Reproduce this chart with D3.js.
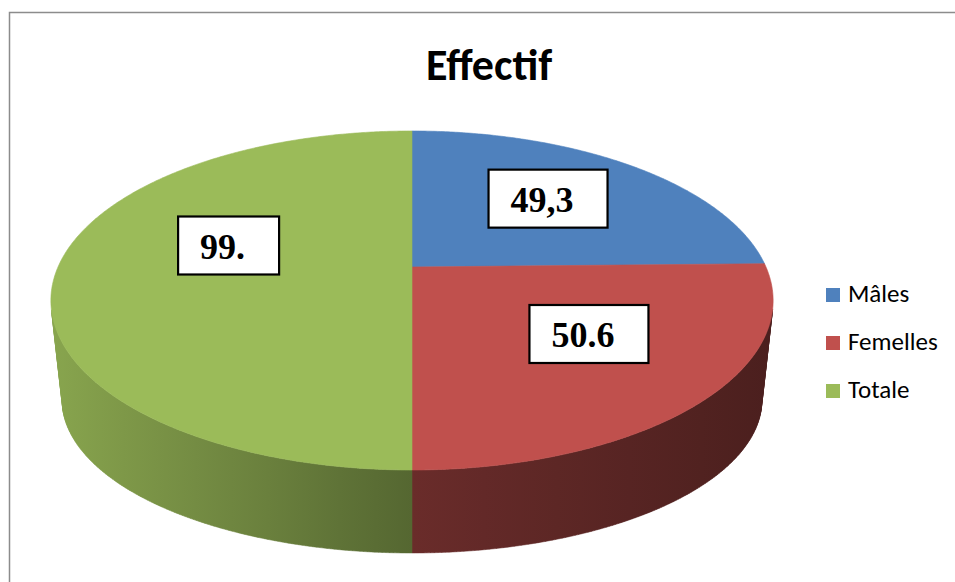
<!DOCTYPE html>
<html>
<head>
<meta charset="utf-8">
<script src="https://cdn.jsdelivr.net/npm/d3@7"></script>
<style>
  html, body { margin: 0; padding: 0; background: #fff; }
  svg { display: block; }
</style>
</head>
<body>
<svg id="chart" width="955" height="582"></svg>
<script>
// ---- data ----
const title = "Effectif";
const categories = ["Mâles", "Femelles", "Totale"];
const values = [49.3, 50.6, 99.9];
const valueLabels = ["49,3", "50.6", "99."];
const palette = ["#4F81BD", "#C0504D", "#9BBB59"];

// ---- layout ----
const W = 955, H = 582;
// perspective ellipses for the top face and the base of the cylinder
const topFace  = { cx: 412, cy: 267,   a: 354, b: 162.9, k: 0.1976 };
const baseFace = { cx: 412, cy: 369.8, a: 343, b: 147,   k: 0.1976 };
// label box placement relative to the slice anchor point
const labelRadius = 0.6;
const labelShift = [[-1, -4], [11.5, -7.6], [29, -21.5]];
const boxPadLeft = 22, boxPadRight = 34, boxHeight = 58;

const svg = d3.select("#chart");
svg.append("rect").attr("width", W).attr("height", H).attr("fill", "#fff");

// chart frame (only top and left edges fall inside the view)
svg.append("path")
  .attr("d", `M9.5,${H} V12.5 H${W}`)
  .attr("fill", "none")
  .attr("stroke", "#8c8c8c")
  .attr("stroke-width", 1.5);

// title
svg.append("text")
  .attr("x", 489).attr("y", 80)
  .attr("text-anchor", "middle")
  .attr("font-family", "Carlito, Calibri, Lato, sans-serif")
  .attr("font-weight", "bold")
  .attr("font-size", 44)
  .attr("fill", "#000")
  .text(title);

// project a point of the unit disc (pie angle, radius) onto the screen
function project(face, angle, r = 1) {
  const u = r * Math.sin(angle), v = -r * Math.cos(angle);
  const s = 1 / (1 - face.k * v);
  return [face.cx + face.a * u * s, face.cy + face.b * v * s];
}
function angles(a0, a1) {
  const n = Math.max(2, Math.ceil((a1 - a0) / (Math.PI / 360)));
  return d3.range(n + 1).map(i => a0 + (a1 - a0) * i / n);
}
function rim(face, a0, a1) {
  return angles(a0, a1).map(a => project(face, a));
}

const arcs = d3.pie().sort(null).value(d => d)(values);
const line = d3.line();

// orientation of a wall strip: the camera-facing side has the same sign as the front
function signedArea(pts) {
  let s = 0;
  for (let i = 0; i < pts.length; i++) {
    const [x0, y0] = pts[i], [x1, y1] = pts[(i + 1) % pts.length];
    s += x0 * y1 - x1 * y0;
  }
  return s / 2;
}
function strip(a0, a1) {
  return [project(topFace, a0), project(topFace, a1), project(baseFace, a1), project(baseFace, a0)];
}
const frontSign = Math.sign(signedArea(strip(Math.PI - 0.01, Math.PI + 0.01)));

// wall outline made of the camera-facing strips of a slice
function wallPath(d) {
  const as = angles(d.startAngle, d.endAngle);
  let p = "";
  for (let i = 0; i < as.length - 1; i++) {
    const q = strip(as[i], as[i + 1]);
    if (Math.sign(signedArea(q)) === frontSign) p += line(q) + "Z";
  }
  return p;
}

// side-wall shading: light from the left, darker towards the right
const xMin = topFace.cx - topFace.a * 1.02, xMax = topFace.cx + topFace.a * 1.02;
const shade = d3.scaleLinear().domain([xMin, topFace.cx, xMax]).range([0.88, 0.55, 0.39]);
const defs = svg.append("defs");
palette.forEach((c, i) => {
  const base = d3.rgb(c);
  const g = defs.append("linearGradient")
    .attr("id", "wall" + i)
    .attr("gradientUnits", "userSpaceOnUse")
    .attr("x1", xMin).attr("x2", xMax).attr("y1", 0).attr("y2", 0);
  d3.range(0, 11).forEach(j => {
    const x = xMin + (xMax - xMin) * j / 10;
    const f = shade(x);
    g.append("stop")
      .attr("offset", j / 10)
      .attr("stop-color", d3.rgb(base.r * f, base.g * f, base.b * f).formatHex());
  });
});

// walls
svg.append("g").selectAll("path")
  .data(arcs)
  .join("path")
  .attr("d", wallPath)
  .attr("fill", (d, i) => `url(#wall${i})`)
  .attr("stroke", (d, i) => `url(#wall${i})`)
  .attr("stroke-width", 0.5)
  .attr("stroke-linejoin", "round");

// top faces
svg.append("g").selectAll("path")
  .data(arcs)
  .join("path")
  .attr("d", d => line([[topFace.cx, topFace.cy]].concat(rim(topFace, d.startAngle, d.endAngle))) + "Z")
  .attr("fill", (d, i) => palette[i])
  .attr("stroke", (d, i) => palette[i])
  .attr("stroke-width", 0.6);

// value labels in boxed callouts
const labels = svg.append("g").selectAll("g")
  .data(arcs)
  .join("g");
labels.each(function (d, i) {
  const g = d3.select(this);
  const mid = (d.startAngle + d.endAngle) / 2;
  const [ax, ay] = project(topFace, mid, labelRadius);
  const cx = ax + labelShift[i][0], cy = ay + labelShift[i][1];
  const rect = g.append("rect");
  const txt = g.append("text")
    .attr("font-family", "'Liberation Serif', 'Times New Roman', serif")
    .attr("font-weight", "bold")
    .attr("font-size", 36)
    .attr("fill", "#000")
    .text(valueLabels[i]);
  const tw = txt.node().getComputedTextLength();
  const bw = tw + boxPadLeft + boxPadRight;
  const bx = cx - bw / 2, by = cy - boxHeight / 2;
  rect.attr("x", bx).attr("y", by).attr("width", bw).attr("height", boxHeight)
    .attr("fill", "#fff").attr("stroke", "#000").attr("stroke-width", 2.2);
  txt.attr("x", bx + boxPadLeft).attr("y", cy + 13);
});

// legend
const legend = svg.append("g").selectAll("g")
  .data(categories)
  .join("g")
  .attr("transform", (d, i) => `translate(826, ${302 + i * 48})`);
legend.append("rect")
  .attr("x", 0).attr("y", -14).attr("width", 14).attr("height", 14)
  .attr("fill", (d, i) => palette[i]);
legend.append("text")
  .attr("x", 22).attr("y", 0)
  .attr("font-family", "Carlito, Calibri, Lato, sans-serif")
  .attr("font-size", 25)
  .attr("fill", "#000")
  .text(d => d);
</script>
</body>
</html>
